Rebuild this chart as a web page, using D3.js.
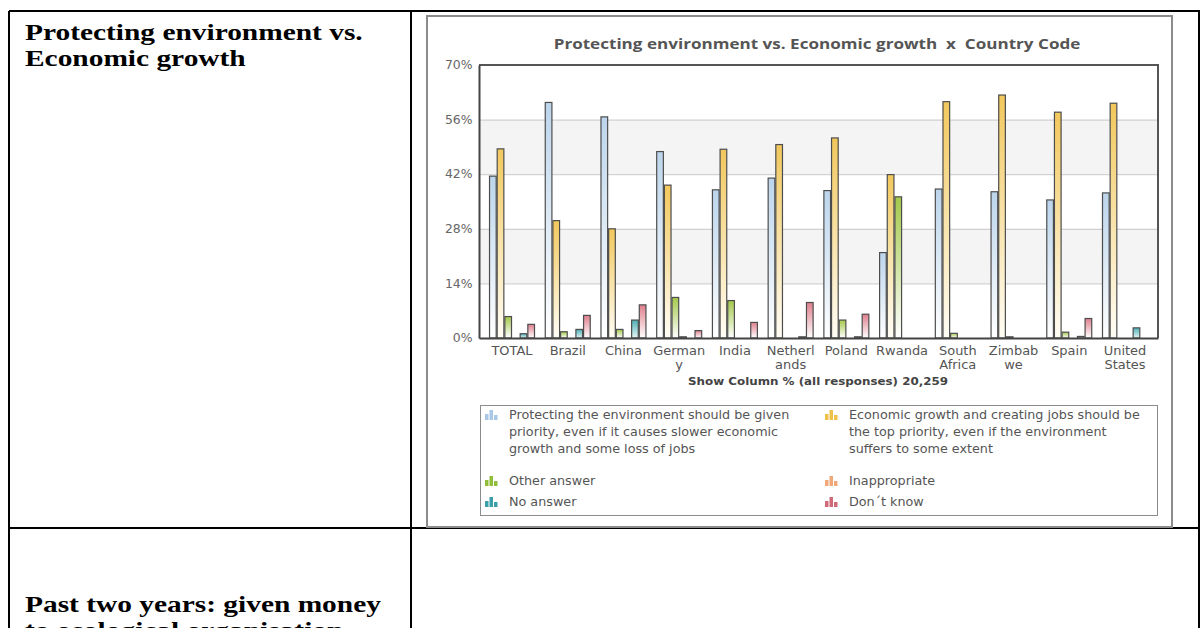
<!DOCTYPE html>
<html>
<head>
<meta charset="utf-8">
<script src="https://cdn.jsdelivr.net/npm/d3@7"></script>
<style>
  html, body { margin: 0; padding: 0; background: #fff; }
  svg { display: block; }
</style>
</head>
<body>
<svg id="page" width="1202" height="628"></svg>
<script>
// Survey results: share of responses per country (column %)
const categories = ["TOTAL", "Brazil", "China", "Germany", "India", "Netherlands",
  "Poland", "Rwanda", "South Africa", "Zimbabwe", "Spain", "United States"];
const categoryLabels = [["TOTAL"], ["Brazil"], ["China"], ["German", "y"], ["India"],
  ["Netherl", "ands"], ["Poland"], ["Rwanda"], ["South", "Africa"], ["Zimbab", "we"],
  ["Spain"], ["United", "States"]];

const protectEnvironment = [41.5, 60.4, 56.7, 47.8, 38.0, 41.0, 37.8, 21.9, 38.2, 37.5, 35.4, 37.2];
const economicGrowth     = [48.5, 30.1, 28.0, 39.2, 48.4, 49.6, 51.3, 41.9, 60.6, 62.3, 57.9, 60.2];
const otherAnswer        = [5.5, 1.6, 2.2, 10.4, 9.6, 0, 4.6, 36.2, 1.2, 0.3, 1.5, 0];
const inappropriate      = [0, 0, 0, 0.3, 0, 0, 0, 0, 0, 0, 0, 0];
const noAnswer           = [1.1, 2.2, 4.6, 0, 0, 0.3, 0.3, 0, 0, 0, 0.4, 2.6];
const dontKnow           = [3.5, 5.8, 8.5, 1.9, 4.0, 9.1, 6.1, 0, 0, 0, 5.0, 0];

const seriesNames = [
  "Protecting the environment should be given priority, even if it causes slower economic growth and some loss of jobs",
  "Economic growth and creating jobs should be the top priority, even if the environment suffers to some extent",
  "Other answer", "Inappropriate", "No answer", "Don\u00b4t know"];
const legendLines = [
  ["Protecting the environment should be given", "priority, even if it causes slower economic", "growth and some loss of jobs"],
  ["Economic growth and creating jobs should be", "the top priority, even if the environment", "suffers to some extent"],
  ["Other answer"], ["Inappropriate"], ["No answer"], ["Don\u00b4t know"]];
const seriesValues = [protectEnvironment, economicGrowth, otherAnswer, inappropriate, noAnswer, dontKnow];

const yTicks = [0, 14, 28, 42, 56, 70];

// visual styling of each series: gradient top / bottom, legend icon colour
const seriesTop    = ["#bcd5ec", "#f2c85c", "#a3c84a", "#f0b07e", "#4cb0b6", "#de7f8d"];
const seriesBottom = ["#ffffff", "#fffdf6", "#ffffff", "#ffffff", "#e6f6f6", "#ffffff"];
const seriesIcon   = ["#a8c8e6", "#efc04a", "#90bd3a", "#f0a878", "#3a9fa8", "#d06a78"];

const svg = d3.select("#page");
const SX = 1.08;   // horizontal glyph widening used for the chart texts

// ---------- surrounding table ----------
const tableLines = [
  [9, 11, 1200, 11], [9, 11, 9, 628], [411, 11, 411, 628], [1199, 11, 1199, 628], [9, 528, 1200, 528]
];
svg.selectAll("line.tbl").data(tableLines).join("line")
  .attr("class", "tbl")
  .attr("x1", d => d[0]).attr("y1", d => d[1]).attr("x2", d => d[2]).attr("y2", d => d[3])
  .attr("stroke", "#000").attr("stroke-width", 2);

function serifHeading(lines, x, y0, step) {
  lines.forEach((t, i) => {
    svg.append("text")
      .attr("transform", `translate(${x},${y0 + i * step}) scale(1.225,1)`)
      .attr("font-family", "Liberation Serif, Times New Roman, serif")
      .attr("font-weight", "bold").attr("font-size", 24).attr("fill", "#000")
      .text(t);
  });
}
serifHeading(["Protecting environment vs.", "Economic growth"], 25, 40, 26);
serifHeading(["Past two years: given money", "to ecological organisation"], 25, 612, 26);

// ---------- chart frame ----------
svg.append("rect").attr("x", 427).attr("y", 16).attr("width", 745).attr("height", 511)
  .attr("fill", "#fff").attr("stroke", "#8c8c8c").attr("stroke-width", 2);

svg.append("text")
  .attr("transform", `translate(817,49) scale(1.22,1)`)
  .attr("text-anchor", "middle")
  .attr("font-family", "Open Sans, Liberation Sans, sans-serif")
  .attr("font-weight", 700).attr("font-size", 14).attr("fill", "#555")
  .text("Protecting environment vs. Economic growth\u00a0 x\u00a0 Country Code");

const plot = { left: 479, right: 1158, top: 65, bottom: 338 };

const y = d3.scaleLinear().domain([0, 70]).range([plot.bottom, plot.top]);
const x0 = d3.scaleBand().domain(categories).range([plot.left, plot.right])
  .paddingInner(0.175).paddingOuter(0.18);
const x1 = d3.scaleBand().domain(d3.range(seriesValues.length)).range([0, x0.bandwidth()]);

// alternating bands
const bands = [[14, 28], [42, 56]];
svg.selectAll("rect.band").data(bands).join("rect").attr("class", "band")
  .attr("x", plot.left).attr("width", plot.right - plot.left)
  .attr("y", d => y(d[1])).attr("height", d => y(d[0]) - y(d[1]))
  .attr("fill", "#f4f4f4");

// gridlines
svg.append("g")
  .attr("transform", `translate(${plot.left},0)`)
  .call(d3.axisLeft(y).tickValues(yTicks.slice(1, -1)).tickSize(-(plot.right - plot.left)).tickFormat(""))
  .call(g => g.select(".domain").remove())
  .call(g => g.selectAll(".tick line").attr("stroke", "#c8c8c8").attr("stroke-width", 1));

// gradients
const defs = svg.append("defs");
seriesValues.forEach((_, i) => {
  const g = defs.append("linearGradient").attr("id", "grad" + i)
    .attr("x1", 0).attr("y1", 0).attr("x2", 0).attr("y2", 1);
  g.append("stop").attr("offset", "0%").attr("stop-color", seriesTop[i]);
  g.append("stop").attr("offset", "100%").attr("stop-color", seriesBottom[i]);
});

// bars
const groups = svg.append("g").selectAll("g").data(categories).join("g")
  .attr("transform", d => `translate(${x0(d)},0)`);
groups.selectAll("rect").data((c, ci) => seriesValues.map((s, si) => ({ si, v: s[ci] })).filter(d => d.v > 0))
  .join("rect")
  .attr("x", d => x1(d.si) + 0.5).attr("width", x1.bandwidth() - 1)
  .attr("y", d => y(d.v)).attr("height", d => y(0) - y(d.v))
  .attr("fill", d => `url(#grad${d.si})`)
  .attr("stroke", "#4d4d4d").attr("stroke-width", 1.2);

// frame top / right
svg.append("path")
  .attr("d", `M${plot.left},${plot.top}H${plot.right}V${plot.bottom}`)
  .attr("fill", "none").attr("stroke", "#555").attr("stroke-width", 2);

// y axis
svg.append("g")
  .attr("transform", `translate(${plot.left},0)`)
  .call(d3.axisLeft(y).tickValues(yTicks).tickSize(0).tickPadding(6).tickFormat(d => d + "%"))
  .call(g => g.select(".domain").attr("stroke", "#444").attr("stroke-width", 2))
  .call(g => g.selectAll("text")
    .attr("font-family", "DejaVu Sans, Verdana, sans-serif").attr("font-size", 11.5)
    .attr("fill", "#666").attr("transform", `scale(${SX},1)`));

// x axis
const xAxis = svg.append("g")
  .attr("transform", `translate(0,${plot.bottom})`)
  .call(d3.axisBottom(x0).tickSize(0).tickPadding(0).tickFormat(""))
  .call(g => g.select(".domain").attr("stroke", "#444").attr("stroke-width", 2));
xAxis.selectAll(".tick").each(function (d, i) {
  const t = d3.select(this).select("text")
    .attr("y", 0).attr("dy", null)
    .attr("font-family", "DejaVu Sans, Verdana, sans-serif").attr("font-size", 11.8)
    .attr("fill", "#555").attr("transform", `scale(1.1,1)`);
  categoryLabels[i].forEach((line, k) => {
    t.append("tspan").attr("x", 0).attr("y", 17 + k * 14).text(line);
  });
});

svg.append("text")
  .attr("transform", `translate(818,385) scale(${SX},1)`)
  .attr("text-anchor", "middle")
  .attr("font-family", "DejaVu Sans, Verdana, sans-serif").attr("font-weight", "bold")
  .attr("font-size", 11).attr("fill", "#444")
  .text("Show Column % (all responses) 20,259");

// legend
svg.append("rect").attr("x", 480.5).attr("y", 405.5).attr("width", 677).attr("height", 110)
  .attr("fill", "#fff").attr("stroke", "#8c8c8c").attr("stroke-width", 1);

const legendPos = [[485, 419], [825, 419], [485, 485], [825, 485], [485, 506], [825, 506]];
seriesNames.forEach((name, i) => {
  const [lx, ly] = legendPos[i];
  const g = svg.append("g").attr("transform", `translate(${lx},${ly})`);
  g.append("title").text(name);
  const iconHeights = [6, 10, 5];
  iconHeights.forEach((h, k) => {
    g.append("rect").attr("x", k * 4.5).attr("y", 1 - h).attr("width", 3.5).attr("height", h)
      .attr("fill", seriesIcon[i]);
  });
  legendLines[i].forEach((line, k) => {
    g.append("text")
      .attr("transform", `translate(24,${k * 17}) scale(1.11,1)`)
      .attr("font-family", "DejaVu Sans, Verdana, sans-serif").attr("font-size", 11.5)
      .attr("fill", "#555").text(line);
  });
});
</script>
</body>
</html>
